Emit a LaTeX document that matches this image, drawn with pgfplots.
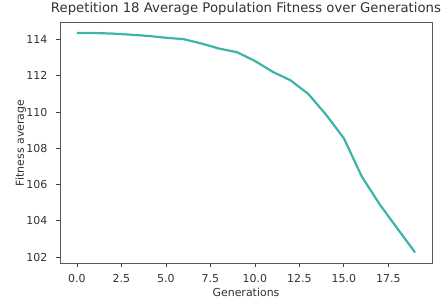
\documentclass[border=0pt]{standalone}
\usepackage{fontspec}
\setmainfont{DejaVu Sans}
\usepackage{pgfplots}
\pgfplotsset{compat=1.18}
\definecolor{lineteal}{RGB}{62,180,168}
\definecolor{txt}{RGB}{50,50,50}
\begin{document}
\begin{tikzpicture}
\begin{axis}[
  scale only axis, width=372bp, height=240.3bp,
  xmin=-0.95, xmax=19.95, ymin=101.67, ymax=114.93,
  xtick={0,2.5,5,7.5,10,12.5,15,17.5},
  ytick={102,104,106,108,110,112,114},
  /pgf/number format/assume math mode=true,
  xticklabel={\pgfmathprintnumber[fixed,fixed zerofill,precision=1]{\tick}},
  yticklabel={\pgfmathprintnumber[fixed,precision=0]{\tick}},
  tick align=outside, tick pos=left,
  major tick length=3.5bp,
  every tick/.style={black!75, line width=0.8bp},
  axis line style={black!65, line width=0.8bp},
  tick label style={font=\fontsize{11}{13}\selectfont, text=txt, inner sep=0pt},
  xticklabel style={anchor=north, yshift=-8bp},
  yticklabel style={anchor=east, xshift=-9bp},
  title={Repetition 18 Average Population Fitness over Generations},
  title style={font=\fontsize{13.3}{16}\selectfont, text=txt, at={(axis description cs:0.5,1.016)}, anchor=base, inner sep=0pt},
  xlabel={Generations},
  xlabel style={font=\fontsize{11}{13}\selectfont, text=txt, at={(axis description cs:0.5,-0.138)}, anchor=base, inner sep=0pt},
  ylabel={Fitness average},
  ylabel style={font=\fontsize{11}{13}\selectfont, text=txt, at={(axis description cs:-0.0968,0.5)}, anchor=base, inner sep=0pt},
]
\addplot[color=lineteal, line width=2.2bp, line join=round] coordinates {
(0,114.36) (1,114.36) (2,114.33) (3,114.27) (4,114.20) (5,114.10)
(6,114.02) (7,113.78) (8,113.50) (9,113.30) (10,112.82) (11,112.22)
(12,111.75) (13,111.00) (14,109.85) (15,108.55) (16,106.45) (17,104.92)
(18,103.58) (19,102.25)
};
\end{axis}
\pgfresetboundingbox
\path (current axis.south west) ++(-60bp,-39bp) coordinate (bbsw);
\path (current axis.north east) ++(14bp,22.7bp) coordinate (bbne);
\useasboundingbox (bbsw) rectangle (bbne);
\end{tikzpicture}
\end{document}
